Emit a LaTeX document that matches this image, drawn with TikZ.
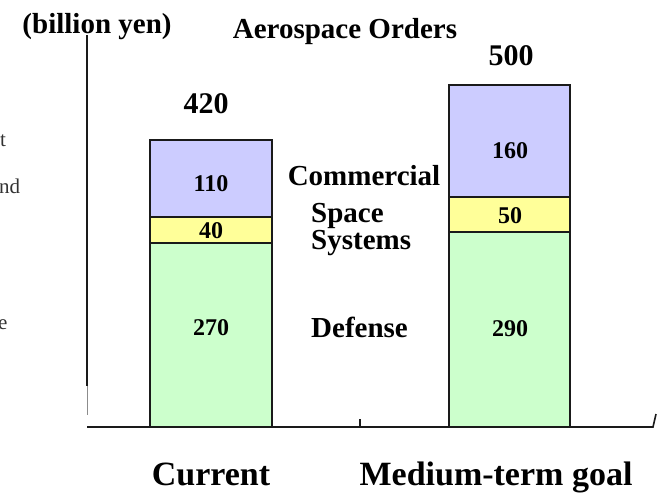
\documentclass[tikz,border=0pt]{standalone}
\usepackage{fontspec}
\setmainfont{Liberation Serif}
\definecolor{commfill}{HTML}{CCCCFF}
\definecolor{spacefill}{HTML}{FFFF99}
\definecolor{deffill}{HTML}{CCFFCC}
\definecolor{edge}{HTML}{1A1A1A}
\begin{document}
\begin{tikzpicture}[x=1pt,y=-1pt,inner sep=0pt,
  seg/.style={draw=edge,line width=1.3pt},
  val/.style={font=\fontsize{24}{24}\selectfont\bfseries,anchor=base},
  lbl/.style={font=\fontsize{29}{29}\selectfont\bfseries,anchor=base},
  total/.style={font=\fontsize{30}{30}\selectfont\bfseries,anchor=base},
  cat/.style={font=\fontsize{34}{34}\selectfont\bfseries,anchor=base},
  frag/.style={font=\fontsize{21}{21}\selectfont,anchor=base west,text=black!80}]
\useasboundingbox (0,0) rectangle (662,493);

% text running in from the left edge
\node[frag] (f1) at (0,146) {t};
\node[frag] (f2) at (-1,193) {nd};
\node[frag] (f3) at (-2,329) {e};

% axes
\coordinate (ytop) at (87,35);
\coordinate (ymid) at (87,386);
\coordinate (ybot) at (87,415);
\coordinate (o) at (87,427);
\coordinate (xend) at (653,427);
\coordinate (xendtick) at (656,414);
\coordinate (midtick) at (360,419);
\coordinate (midbase) at (360,427);
\draw[line width=1.2pt,edge] (ytop) -- (ymid);
\draw[line width=0.7pt,black!45] (ymid) -- (ybot);

% bars: Current
\path[seg,fill=deffill] (150,243) rectangle (272,427);
\path[seg,fill=spacefill] (150,217) rectangle (272,243);
\path[seg,fill=commfill] (150,140) rectangle (272,217);
% bars: Medium-term goal
\path[seg,fill=deffill] (449,232) rectangle (570,427);
\path[seg,fill=spacefill] (449,197) rectangle (570,232);
\path[seg,fill=commfill] (449,85) rectangle (570,197);

\draw[line width=1.6pt,edge] (o) -- (xend) -- (xendtick);
\draw[line width=1.2pt,edge] (midtick) -- (midbase);
\draw[line width=2.4pt,edge] (150,427) -- (272,427);
\draw[line width=2.4pt,edge] (449,427) -- (570,427);

% values
\node[val] (v110) at (211,191) {110};
\node[val] (v40) at (211,238) {40};
\node[val] (v270) at (211,335) {270};
\node[val] (v160) at (510,158) {160};
\node[val] (v50) at (510,223) {50};
\node[val] (v290) at (510,336) {290};

% totals
\node[total] (t420) at (206,113) {420};
\node[total] (t500) at (511,65) {500};

% titles and legend
\node[lbl] (unit) at (97,33) {(billion yen)};
\node[lbl] (title) at (345,38) {Aerospace Orders};
\node[lbl] (comm) at (364,185) {Commercial};
\node[lbl,anchor=base west] (space1) at (311,222) {Space};
\node[lbl,anchor=base west] (space2) at (311,249) {Systems};
\node[lbl,anchor=base west] (def) at (311,337) {Defense};

% categories
\node[cat] (cur) at (211,485) {Current};
\node[cat] (goal) at (496,485) {Medium-term goal};
\end{tikzpicture}
\end{document}
